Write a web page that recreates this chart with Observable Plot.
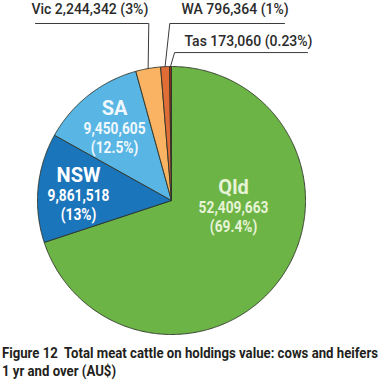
<!DOCTYPE html>
<html><head><meta charset="utf-8">
<script src="https://cdn.jsdelivr.net/npm/d3@7"></script>
<script src="https://cdn.jsdelivr.net/npm/@observablehq/plot@0.6"></script>
<style>
body{margin:0;background:#fff;}
#cap{margin-top:7px;padding-left:2px;}
#capInner{display:inline-block;white-space:nowrap;font-family:Roboto,"Liberation Sans",sans-serif;font-weight:bold;font-size:15px;line-height:17.5px;color:#231f20;transform-origin:0 0;}
#capInner div{height:17.5px;}
</style></head><body>
<div id="chart"></div>
<div id="cap"><span id="capInner"><div>Figure 12&nbsp; Total meat cattle on holdings value: cows and heifers</div><div>1 yr and over (AU$)</div></span></div>
<script>
const states = ["Qld","NSW","SA","Vic","WA","Tas"];
const values = [52409663, 9861518, 9450605, 2244342, 796364, 173060];
const valueLabels = ["52,409,663","9,861,518","9,450,605","2,244,342","796,364","173,060"];
const pctLabels = ["69.4%","13%","12.5%","3%","1%","0.23%"];
const colors = ["#6db446","#1b75bb","#59b5e3","#f9b363","#e06d36","#9a2e1c"];

const FONT = 'Roboto,"Liberation Sans",sans-serif';
const W = 380, H = 338, R = 134, CX = 171, CY = 200;

const arcs = d3.pie().sort(null).value(d => d)(values);
const piePts = [];
arcs.forEach((a, i) => {
  const span = a.endAngle - a.startAngle;
  const n = Math.max(2, Math.ceil(span / (Math.PI / 360)));
  piePts.push({state: states[i], x: 0, y: 0});
  for (let k = 0; k <= n; k++) {
    const t = a.startAngle + span * k / n;
    piePts.push({state: states[i], x: Math.sin(t), y: Math.cos(t)});
  }
  piePts.push({state: states[i], x: 0, y: 0});
});

// layout for inside labels (unit coords)
const inside = [
  {state: "Qld", ux: 0.463, uy: 0.097, color: "#e6f3d6"},
  {state: "NSW", ux: -0.694, uy: 0.187, color: "#ffffff"},
  {state: "SA", ux: -0.425, uy: 0.687, color: "#eef8fd"}
].map(d => {
  const i = states.indexOf(d.state);
  return {...d, value: valueLabels[i], pct: "(" + pctLabels[i] + ")"};
});

// layout for outside labels (unit coords)
const outside = [
  {state: "Vic", elbowDx: 0.005, elbowY: 1.321, endX: -1.015, textX: -1.045, textY: 1.422},
  {state: "WA", elbowDx: 0.035, elbowY: 1.321, endX: 0.843, textX: 0.075, textY: 1.422},
  {state: "Tas", elbowDx: 0.03, elbowY: 1.104, endX: 1.015, textX: 0.097, textY: 1.183}
];
const leaderPts = [];
const outLabels = [];
outside.forEach(o => {
  const i = states.indexOf(o.state);
  const a = arcs[i];
  const m = (a.startAngle + a.endAngle) / 2;
  const px = Math.sin(m), py = Math.cos(m);
  leaderPts.push({state: o.state, x: px, y: py});
  leaderPts.push({state: o.state, x: px + o.elbowDx, y: o.elbowY});
  leaderPts.push({state: o.state, x: o.endX, y: o.elbowY});
  outLabels.push({x: o.textX, y: o.textY, text: `${states[i]} ${valueLabels[i]} (${pctLabels[i]})`});
});

const chart = Plot.plot({
  width: W, height: H,
  marginLeft: CX - R, marginRight: W - CX - R, marginTop: CY - R, marginBottom: H - CY - R,
  x: {domain: [-1, 1], axis: null},
  y: {domain: [-1, 1], axis: null},
  color: {domain: states, range: colors},
  style: {background: "#fff"},
  marks: [
    Plot.line(piePts, {x: "x", y: "y", z: "state", fill: "state", stroke: "#2d3328", strokeWidth: 0.9, strokeLinejoin: "round"}),
    Plot.line(leaderPts, {x: "x", y: "y", z: "state", stroke: "#3a3a3a", strokeWidth: 1}),
    Plot.text(outLabels, {x: "x", y: "y", text: "text", textAnchor: "start", fill: "#2b2b2b", fontSize: 14, fontWeight: 500, fontFamily: FONT}),
    Plot.text(inside, {x: "ux", y: "uy", text: "state", fill: d => d.color, fontSize: 20, fontWeight: "bold", fontFamily: FONT}),
    Plot.text(inside, {x: "ux", y: "uy", text: "value", dy: 20, fill: d => d.color, fontSize: 16, fontWeight: "bold", fontFamily: FONT}),
    Plot.text(inside, {x: "ux", y: "uy", text: "pct", dy: 39, fill: d => d.color, fontSize: 16, fontWeight: "bold", fontFamily: FONT})
  ]
});
document.getElementById("chart").appendChild(chart);

// condense the number labels (narrow typeface look)
function condense(g, k) {
  g.querySelectorAll("text").forEach(t => {
    const tr = t.getAttribute("transform");
    if (tr) t.setAttribute("transform", tr + ` scale(${k},1)`);
    else {
      const x = +t.getAttribute("x") || 0;
      t.setAttribute("transform", `translate(${x},0) scale(${k},1) translate(${-x},0)`);
    }
  });
}
const textGroups = chart.querySelectorAll('g[aria-label="text"]');
condense(textGroups[2], 0.86);
condense(textGroups[3], 0.86);

// fit caption to the chart width
const cap = document.getElementById("capInner");
const w = cap.getBoundingClientRect().width;
cap.style.transform = `scaleX(${376 / w})`;
</script>
</body></html>
